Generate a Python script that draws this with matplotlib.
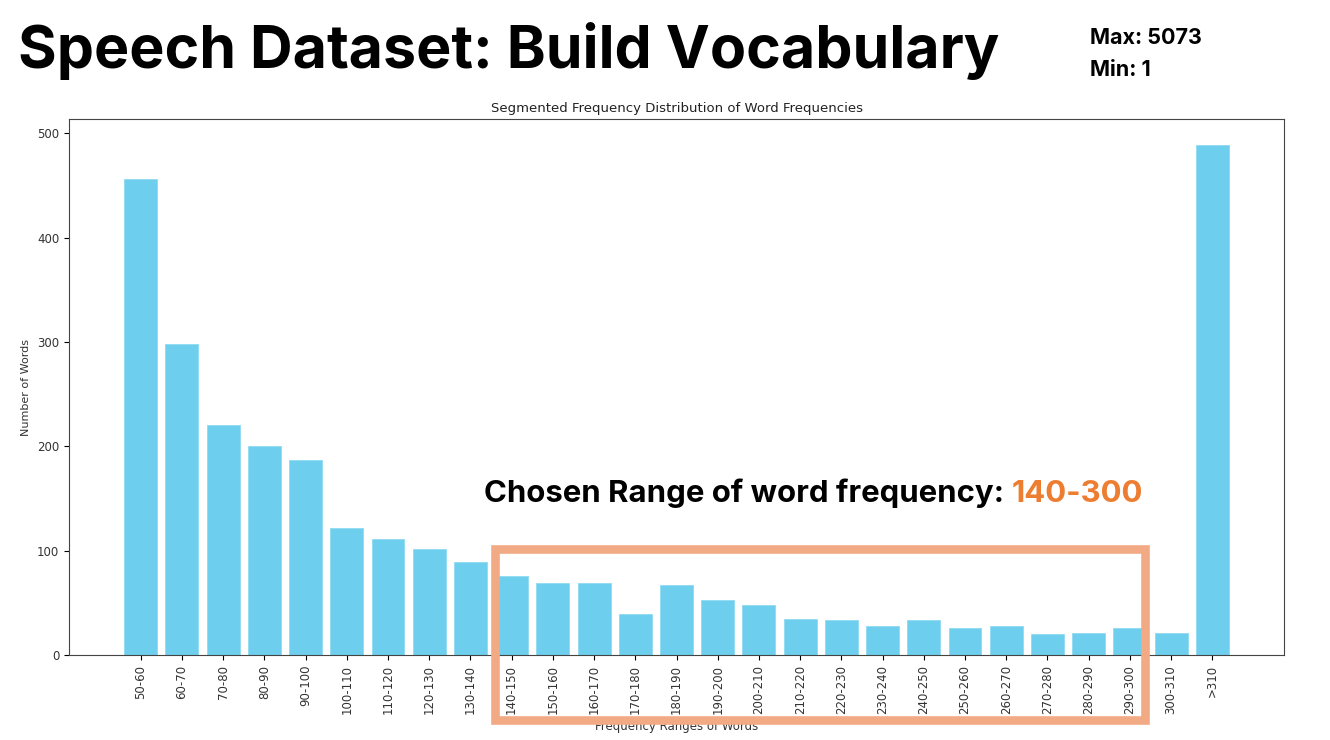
import numpy as np
import matplotlib
matplotlib.use('Agg')
import matplotlib.pyplot as plt
from matplotlib.patches import Rectangle

ranges = ['50-60', '60-70', '70-80', '80-90', '90-100', '100-110', '110-120',
          '120-130', '130-140', '140-150', '150-160', '160-170', '170-180',
          '180-190', '190-200', '200-210', '210-220', '220-230', '230-240',
          '240-250', '250-260', '260-270', '270-280', '280-290', '290-300',
          '300-310', '>310']
counts = [456, 298, 221, 200, 187, 122, 111, 102, 89, 76, 69, 69, 40,
          67, 53, 48, 35, 34, 28, 34, 26, 28, 20, 21, 26, 21, 489]

freq_max = 5073
freq_min = 1
chosen = '140-300'

fig = plt.figure(figsize=(13.3, 7.4), dpi=100)
ax = fig.add_axes([0.0519, 0.1145, 0.9135, 0.7243])

ax.bar(ranges, counts, color='#6DCFED', edgecolor='#8FDBF2', linewidth=0.6)
ax.set_title('Segmented Frequency Distribution of Word Frequencies', fontsize=9.5, color='#222222', pad=5)
ax.set_xlabel('Frequency Ranges of Words', fontsize=8.5, color='#333333')
ax.set_ylabel('Number of Words', fontsize=8, color='#333333')
ax.tick_params(axis='x', labelrotation=90, labelsize=8.5, labelcolor='#333333')
ax.tick_params(axis='y', labelsize=8.5, labelcolor='#333333')
ax.set_yticks([0, 100, 200, 300, 400, 500])
for s in ax.spines.values():
    s.set_color('#444444')

# slide header
fig.text(0.0135, 0.908, 'Speech Dataset: Build Vocabulary', fontsize=42.5,
         fontweight='bold', family='Inter', va='baseline', ha='left')
fig.text(0.8195, 0.9405, f'Max: {freq_max}', fontsize=15.5, fontweight='bold',
         family='Inter', va='baseline')
fig.text(0.8195, 0.897, f'Min: {freq_min}', fontsize=15.5, fontweight='bold',
         family='Inter', va='baseline')

# chosen range annotation
t = fig.text(0.364, 0.321, 'Chosen Range of word frequency: ', fontsize=22.4,
             fontweight='bold', family='Inter', va='baseline', ha='left')
fig.canvas.draw()
bb = t.get_window_extent()
fig.text(bb.x1 / fig.bbox.width, 0.321, chosen, fontsize=22.4, fontweight='bold',
         family='Inter', color='#ED7D31', va='baseline', ha='left')

box = Rectangle((0.3722, 0.027), 0.4887, 0.2311, transform=fig.transFigure,
                fill=False, edgecolor='#F2AA84', linewidth=6.2, zorder=10)
fig.patches.append(box)

fig.savefig('out.png', dpi=100)
